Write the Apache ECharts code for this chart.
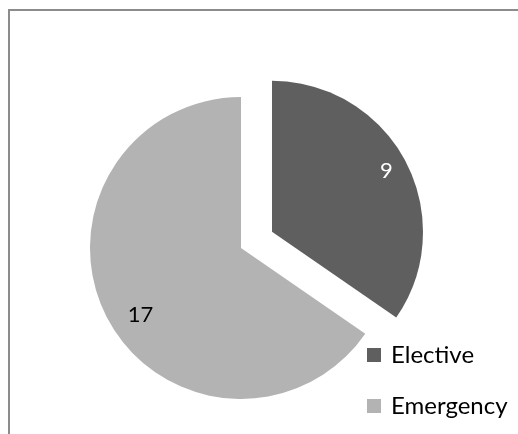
<!DOCTYPE html>
<html>
<head>
<meta charset="utf-8">
<style>
  html, body { margin: 0; padding: 0; background: #fff; }
  #chart { width: 518px; height: 434px; }
</style>
<script src="https://cdn.jsdelivr.net/npm/echarts@6/dist/echarts.min.js"></script>
</head>
<body>
<div id="chart"></div>
<script>
// Admission types and their counts
const categories = ['Elective', 'Emergency'];
const counts = [9, 17];
const sliceColors = ['#5f5f5f', '#b3b3b3'];
const labelColors = ['#ffffff', '#000000'];

const FONT = 'Lato, "Open Sans", sans-serif';

const chart = echarts.init(document.getElementById('chart'), null, { renderer: 'canvas' });

const pieData = categories.map((name, i) => ({
  name: name,
  value: counts[i],
  selected: i === 0,
  itemStyle: { color: sliceColors[i] },
  label: { color: labelColors[i] }
}));

// nudges that move the value labels outward toward the rim
const labelShift = [[45, -24], [-31, 30]];

chart.setOption({
  animation: false,
  backgroundColor: '#ffffff',
  graphic: [{
    type: 'rect',
    shape: { x: 9, y: 10, width: 700, height: 700 },
    style: { fill: 'none', stroke: '#8c8c8c', lineWidth: 2 },
    silent: true,
    z: 0
  }],
  legend: {
    orient: 'vertical',
    left: 367,
    top: 342,
    padding: 0,
    icon: 'rect',
    itemWidth: 14,
    itemHeight: 14,
    itemGap: 25,
    selectedMode: false,
    textStyle: {
      fontFamily: FONT,
      fontSize: 24,
      color: '#000000',
      lineHeight: 26,
      padding: [0, 0, 0, 5]
    },
    data: categories
  },
  series: [{
    type: 'pie',
    center: [241, 248],
    radius: 151,
    startAngle: 90,
    clockwise: true,
    selectedMode: 'single',
    selectedOffset: 35,
    avoidLabelOverlap: false,
    emphasis: { disabled: true },
    label: {
      show: true,
      position: 'inside',
      formatter: '{c}',
      fontFamily: FONT,
      fontSize: 22
    },
    labelLine: { show: false },
    labelLayout: function (params) {
      const s = labelShift[params.dataIndex];
      return { dx: s[0], dy: s[1] };
    },
    data: pieData
  }]
});
</script>
</body>
</html>
